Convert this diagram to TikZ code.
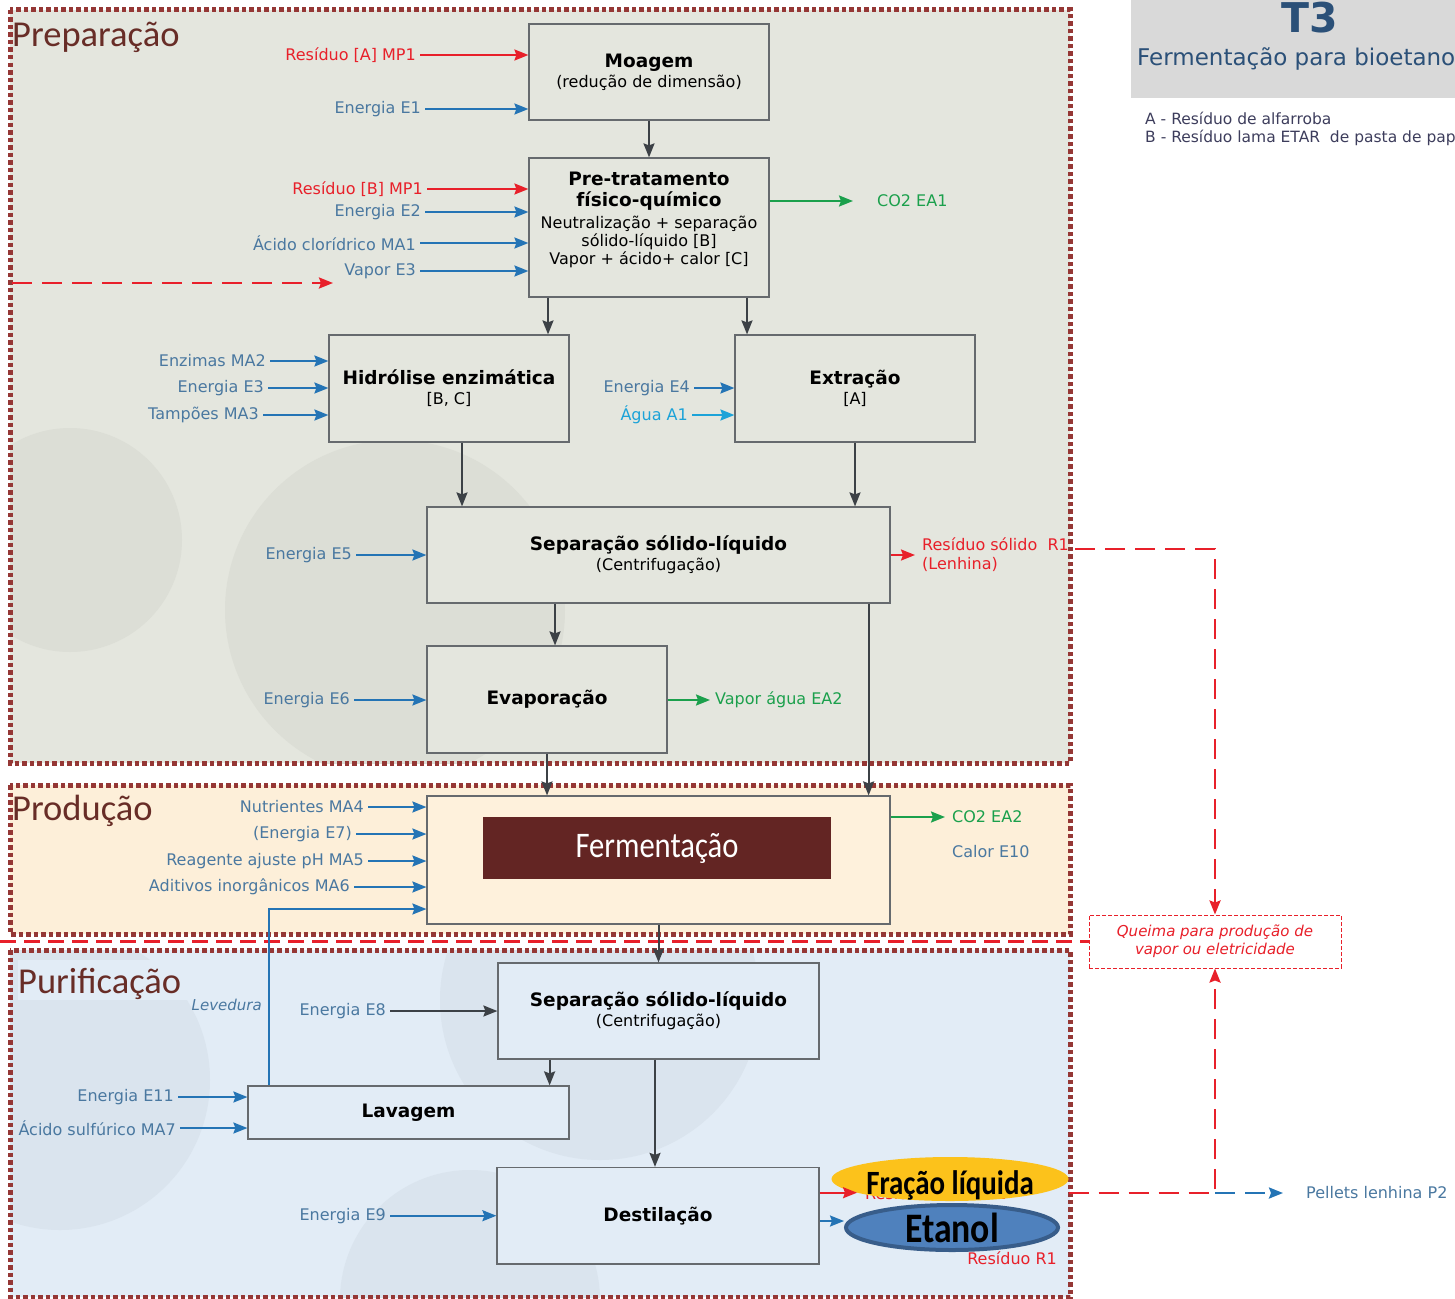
\documentclass[tikz,border=0pt]{standalone}
\usepackage{fontspec}
\setmainfont{DejaVu Sans}
\newfontfamily\titlefont{Carlito}
\newfontfamily\condfont[FakeStretch=0.85]{Carlito}
\usetikzlibrary{arrows.meta,positioning,shapes.geometric}
\definecolor{secred}{HTML}{953735}
\definecolor{prepfill}{HTML}{E4E6DE}
\definecolor{prodfill}{HTML}{FDEFD9}
\definecolor{purfill}{HTML}{E2ECF6}
\definecolor{fermfill}{HTML}{FEF1DC}
\definecolor{prepcircle}{HTML}{DCDED6}
\definecolor{purcircle}{HTML}{DAE4EE}
\definecolor{boxgray}{HTML}{666A6E}
\definecolor{darkflow}{HTML}{3C4146}
\definecolor{flowblue}{HTML}{2474B5}
\definecolor{lblblue}{HTML}{4A78A0}
\definecolor{flowred}{HTML}{E8202A}
\definecolor{gasgreen}{HTML}{1BA04C}
\definecolor{watercyan}{HTML}{1CA3D8}
\definecolor{titlebrown}{HTML}{682D27}
\definecolor{fermred}{HTML}{632523}
\definecolor{fracyellow}{HTML}{FCC21B}
\definecolor{etafill}{HTML}{4F81BD}
\definecolor{etablue}{HTML}{385D8A}
\definecolor{headgray}{HTML}{D9D9D9}
\definecolor{headblue}{HTML}{2B5078}
\definecolor{legendgray}{HTML}{3D3D5C}
\newcommand{\boxtitle}[1]{{\bfseries\fontsize{18.5}{20}\selectfont #1}}
\begin{document}
\begin{tikzpicture}[x=1pt,y=-1pt,
>={Stealth[length=14pt,width=11pt,inset=2pt]},
section/.style={draw=secred,line width=5pt,dash pattern=on 4.5pt off 3pt},
proc/.style={
% The boxes:
rectangle,
draw=boxgray,
line width=1.2pt,
fill=#1,
inner sep=2pt,
align=center,
font=\fontsize{16}{20}\selectfont
},
proc/.default=prepfill,
sectitle/.style={anchor=base west,inner sep=0pt,text=titlebrown,font=\titlefont\fontsize{36.5}{40}\selectfont},
lbl/.style={anchor=east,inner sep=4pt,text=lblblue,font=\fontsize{16}{19}\selectfont},
rlbl/.style={lbl,text=flowred},
olbl/.style={lbl,anchor=west},
inflow/.style={->,draw=flowblue,line width=2pt},
redflow/.style={->,draw=flowred,line width=2pt},
gasflow/.style={->,draw=gasgreen,line width=2pt},
mainflow/.style={->,draw=darkflow,line width=2pt},
reddash/.style={draw=flowred,line width=2.4pt,dash pattern=on 20pt off 10pt},
bluedash/.style={draw=flowblue,line width=2.4pt,dash pattern=on 20pt off 10pt}
]
\useasboundingbox (0,0) rectangle (1455,1298);
% Sections:
\fill[prepfill] (10,10) rectangle (1070,763);
\fill[prodfill] (10,785) rectangle (1070,934);
\fill[purfill] (10,950) rectangle (1070,1297);
\begin{scope}
\clip (10,10) rectangle (1070,763);
\fill[prepcircle] (70,540) circle (112pt);
\fill[prepcircle] (395,610) circle (170pt);
\end{scope}
\begin{scope}
\clip (10,950) rectangle (1070,1297);
\fill[purcircle] (60,1080) circle (150pt);
\fill[purcircle] (600,1000) circle (160pt);
\fill[purcircle] (470,1300) circle (130pt);
\end{scope}
\fill[purfill] (18,960) rectangle (210,1000);
\draw[section] (10,10) rectangle (1070,763);
\draw[section] (10,785) rectangle (1070,934);
\draw[section] (10,950) rectangle (1070,1297);
\node[sectitle] (prep) at (12,47) {Preparação};
\node[sectitle] (prod) at (12,820) {Produção};
\node[sectitle] (puri) at (18,993) {Purificação};

% Header:
\fill[headgray] (1131,0) rectangle (1455,98);
\node[inner sep=0pt,text=headblue,font=\bfseries\fontsize{41}{44}\selectfont] (t3) at (1310,18) {T3};
\begin{scope}
\clip (1131,0) rectangle (1455,160);
\node[anchor=west,inner sep=0pt,text=headblue,font=\fontsize{23}{26}\selectfont] (t3name) at (1137,59) {Fermentação para bioetanol};
\node[anchor=west,inner sep=0pt,text=legendgray,font=\fontsize{15.5}{18}\selectfont] (legA) at (1145,118) {A - Resíduo de alfarroba};
\node[anchor=west,inner sep=0pt,text=legendgray,font=\fontsize{15.5}{18}\selectfont] (legB) at (1145,138) {B - Resíduo lama ETAR\ \ de pasta de papel};
\end{scope}

% Red link to the burner:
\coordinate (leftout) at (0,941.5);
\node[draw=flowred,dash pattern=on 4pt off 2pt,line width=1pt,fill=white,minimum width=252pt,minimum height=53pt,align=center,text=flowred,font=\itshape\fontsize{15}{18}\selectfont] (queima) at (1215,941.5) {Queima para produção de\\vapor ou eletricidade};
\draw[reddash,dash pattern=on 16pt off 8pt] (leftout) -- (queima.west);

% Process boxes:
\node[proc,minimum width=240pt,minimum height=96pt] (moagem) at (649,72) {\boxtitle{Moagem}\\(redução de dimensão)};
\node[proc,minimum width=240pt,minimum height=139pt] (pretrat) at (649,227.5) {};
\node[align=center,inner sep=0pt,font=\fontsize{16}{18}\selectfont] (pretxt) at (649,220) {\boxtitle{Pre-tratamento}\\[3pt]\boxtitle{físico-químico}\\[4pt]Neutralização + separação\\sólido-líquido [B]\\Vapor + ácido+ calor [C]};
\node[proc,minimum width=240pt,minimum height=107pt] (hidrolise) at (449,388.5) {\boxtitle{Hidrólise enzimática}\\{[B, C]}};
\node[proc,minimum width=240pt,minimum height=107pt] (extracao) at (855,388.5) {\boxtitle{Extração}\\{[A]}};
\node[proc,minimum width=463pt,minimum height=96pt] (sep1) at (658.5,555) {\boxtitle{Separação sólido-líquido}\\(Centrifugação)};
\node[proc,minimum width=240pt,minimum height=107pt] (evap) at (547,699.5) {\boxtitle{Evaporação}};
\node[proc=fermfill,minimum width=463pt,minimum height=128pt] (ferm) at (658.5,860) {};
\node[fill=fermred,text=white,minimum width=348pt,minimum height=62pt,font=\condfont\fontsize{36}{40}\selectfont] (fermtag) at (657,848) {Fermentação};
\node[proc=purfill,minimum width=321pt,minimum height=96pt] (sep2) at (658.5,1011) {\boxtitle{Separação sólido-líquido}\\(Centrifugação)};
\node[proc=purfill,minimum width=321pt,minimum height=53pt] (lavagem) at (408.5,1112.5) {\boxtitle{Lavagem}};
\node[proc=purfill,minimum width=322pt,minimum height=96.5pt] (destil) at (658,1215.7) {\boxtitle{Destilação}};

% Main line:
\draw[mainflow] (moagem) -- (pretrat);
\draw[mainflow] ([xshift=-101pt]pretrat.south) -- ([xshift=-101pt]pretrat.south |- hidrolise.north);
\draw[mainflow] ([xshift=98pt]pretrat.south) -- ([xshift=98pt]pretrat.south |- extracao.north);
\draw[mainflow] ([xshift=13pt]hidrolise.south) -- ([xshift=13pt]hidrolise.south |- sep1.north);
\draw[mainflow] (extracao.south) -- (extracao.south |- sep1.north);
\draw[mainflow] ([xshift=8pt]evap.north |- sep1.south) -- ([xshift=8pt]evap.north);
\draw[mainflow] ([xshift=-22pt]sep1.south east) -- ([xshift=-22pt]ferm.north east);
\draw[mainflow] (evap.south) -- (evap.south |- ferm.north);
\draw[mainflow] (ferm.south) -- (sep2.north);
\draw[mainflow] ([xshift=-20pt]lavagem.north east |- sep2.south) -- ([xshift=-20pt]lavagem.north east);
\draw[mainflow] ([xshift=-3.5pt]sep2.south) -- ([xshift=-3.5pt]sep2.south |- destil.north);

% Preparação inputs and outputs:
\node[rlbl] (resA) at (420,55) {Resíduo [A] MP1};
\draw[redflow] (resA) -- (moagem.west |- resA);
\node[lbl] (e1) at (425,109) {Energia E1};
\draw[inflow] (e1) -- (moagem.west |- e1);
\node[rlbl] (resB) at (427,189) {Resíduo [B] MP1};
\draw[redflow] (resB) -- (pretrat.west |- resB);
\node[lbl] (e2) at (425,212) {Energia E2};
\draw[inflow] (e2) -- (pretrat.west |- e2);
\node[lbl] (ma1) at (420,243) {Ácido clorídrico MA1};
\draw[inflow] (ma1) -- (pretrat.west |- ma1);
\node[lbl] (e3v) at (420,271) {Vapor E3};
\draw[inflow] (e3v) -- (pretrat.west |- e3v);
\coordinate (recin) at (12,283);
\coordinate (recend) at (333,283);
\draw[reddash,->] (recin) -- (recend);
\node[olbl,text=gasgreen] (ea1) at (873,201) {CO2 EA1};
\draw[gasflow] (pretrat.east |- ea1) -- ([xshift=-20pt]ea1.west);
\node[lbl] (ma2) at (270,361) {Enzimas MA2};
\draw[inflow] (ma2) -- (hidrolise.west |- ma2);
\node[lbl] (e3) at (268,388) {Energia E3};
\draw[inflow] (e3) -- (hidrolise.west |- e3);
\node[lbl] (ma3) at (263,415) {Tampões MA3};
\draw[inflow] (ma3) -- (hidrolise.west |- ma3);
\node[lbl] (e4) at (694,388) {Energia E4};
\draw[inflow] (e4) -- (extracao.west |- e4);
\node[lbl,text=watercyan] (a1) at (692,415) {Água A1};
\draw[inflow,draw=watercyan] (a1) -- (extracao.west |- a1);
\node[lbl] (e5) at (356,555) {Energia E5};
\draw[inflow] (e5) -- (sep1.west |- e5);
\node[olbl,text=flowred,align=left] (r1) at (918,554.5) {Resíduo sólido\ \ R1\\(Lenhina)};
\draw[redflow] (sep1.east) -- ([xshift=-3pt]sep1.east -| r1.west);
\coordinate (r1out) at (1075,549);
\draw[reddash,->] (r1out) -| (queima.north);
\node[lbl] (e6) at (354,700) {Energia E6};
\draw[inflow] (e6) -- (evap.west |- e6);
\node[olbl,text=gasgreen] (ea2) at (711,700) {Vapor água EA2};
\draw[gasflow] (evap.east |- ea2) -- ([xshift=-1pt]ea2.west);

% Produção:
\node[lbl] (ma4) at (368,807) {Nutrientes MA4};
\draw[inflow] (ma4) -- (ferm.west |- ma4);
\node[lbl] (e7) at (356,834) {(Energia E7)};
\draw[inflow] (e7) -- (ferm.west |- e7);
\node[lbl] (ma5) at (368,861) {Reagente ajuste pH MA5};
\draw[inflow] (ma5) -- (ferm.west |- ma5);
\node[lbl] (ma6) at (354,887) {Aditivos inorgânicos MA6};
\draw[inflow] (ma6) -- (ferm.west |- ma6);
\node[olbl,text=gasgreen] (co2b) at (948,817) {CO2 EA2};
\draw[gasflow] (ferm.east |- co2b) -- ([xshift=-3pt]co2b.west);
\node[olbl] (e10) at (948,852) {Calor E10};

% Purificação:
\node[lbl] (e8) at (390,1011) {Energia E8};
\draw[mainflow] (e8) -- (sep2.west |- e8);
\node[lbl] (e11) at (178,1097) {Energia E11};
\draw[inflow] (e11) -- (lavagem.west |- e11);
\node[lbl] (ma7) at (180,1128) {Ácido sulfúrico MA7};
\draw[inflow] (ma7) -- (lavagem.west |- ma7);
\node[lbl,font=\itshape\fontsize{15}{18}\selectfont] (levedura) at (266,1005) {Levedura};
\draw[inflow] ([xshift=22pt]lavagem.north west) |- ([yshift=-49pt]ferm.west);
\node[lbl] (e9) at (390,1215.7) {Energia E9};
\draw[inflow] (e9) -- (destil.west |- e9);

% Products:
\node[anchor=base west,inner sep=0pt,text=flowred,font=\fontsize{16}{19}\selectfont] (r2) at (865,1199) {Resíduo sólido R2};
\node[ellipse,fill=fracyellow,minimum width=237pt,minimum height=44pt,inner sep=0pt,text height=30pt,text depth=0pt,font=\condfont\bfseries\fontsize{34}{36}\selectfont] (frac) at (950,1179) {Fração líquida};
\node[ellipse,draw=etablue,line width=4pt,fill=etafill,minimum width=212pt,minimum height=45pt,inner sep=0pt,text height=30pt,text depth=0pt,font=\condfont\bfseries\fontsize{42}{44}\selectfont] (etanol) at (952,1227.5) {Etanol};
\draw[redflow] (destil.east |- r2.west) -- ([xshift=-8pt]r2.west);
\draw[inflow] ([yshift=-5.3pt]destil.east) -- ([yshift=-5.3pt]destil.east -| etanol.west);
\node[anchor=base east,inner sep=0pt,text=flowred,font=\fontsize{16}{19}\selectfont] (resr1) at (1057,1264) {Resíduo R1};
\coordinate (pj) at (1215,1193);
\draw[reddash,->] (frac.east |- pj) -- (pj) -- (queima.south);
\node[olbl,font=\fontsize{16}{19}\selectfont] (pellets) at (1302,1193) {Pellets lenhina P2};
\draw[bluedash,->] (pj) -- ([xshift=-19pt]pellets.west);
\end{tikzpicture}
\end{document}
